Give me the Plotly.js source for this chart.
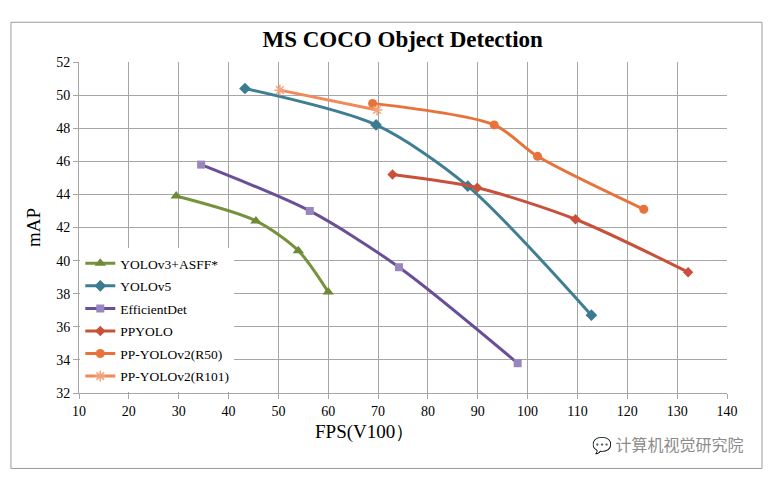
<!DOCTYPE html>
<html>
<head>
    <meta charset="UTF-8">
    <script src="https://cdn.plot.ly/plotly-3.0.1.min.js"></script>
    <style>
        body { margin: 0; background: white; }
        #plot { width: 770px; height: 478px; }
    </style>
</head>
<body>
    <div id="plot"></div>
    <script>
        // values
        const seriesNames = ['YOLOv3+ASFF*', 'YOLOv5', 'EfficientDet', 'PPYOLO', 'PP-YOLOv2(R50)', 'PP-YOLOv2(R101)']

        const asffFps = [29.5, 45.5, 54, 60]
        const asffMap = [43.9, 42.4, 40.6, 38.1]

        const yolov5Fps = [43.3, 69.6, 88, 112.8]
        const yolov5Map = [50.4, 48.2, 44.5, 36.7]

        const effdetFps = [34.5, 56.3, 74.2, 98]
        const effdetMap = [45.8, 43.0, 39.6, 33.8]

        const ppyoloFps = [72.9, 89.9, 109.6, 132.2]
        const ppyoloMap = [45.2, 44.4, 42.5, 39.3]

        const ppv2r50Fps = [68.9, 93.3, 102, 123.3]
        const ppv2r50Map = [49.5, 48.2, 46.3, 43.1]

        const ppv2r101Fps = [50.3, 69.8]
        const ppv2r101Map = [50.3, 49.1]

        const xTicks = [10, 20, 30, 40, 50, 60, 70, 80, 90, 100, 110, 120, 130, 140]
        const yTicks = [32, 34, 36, 38, 40, 42, 44, 46, 48, 50, 52]

        const serif = 'Liberation Serif, Times New Roman, serif'

        function line(name, x, y, color, markerColor, symbol, size) {
            return {
                x: x,
                y: y,
                name: name,
                legendgroup: name,
                type: 'scatter',
                mode: 'lines+markers',
                line: { color: color, width: 3, shape: 'spline', smoothing: 0.8 },
                marker: { color: markerColor, symbol: symbol, size: size,
                          line: { color: markerColor, width: symbol.indexOf('asterisk') === 0 ? 1.5 : 0 } }
            }
        }

        const data = [
            line(seriesNames[0], asffFps, asffMap, '#76923c', '#6f8a36', 'triangle-up', 10),
            line(seriesNames[1], yolov5Fps, yolov5Map, '#3f7f93', '#3a7b8f', 'diamond', 9),
            line(seriesNames[2], effdetFps, effdetMap, '#6a4f96', '#9a86bf', 'square', 8),
            line(seriesNames[3], ppyoloFps, ppyoloMap, '#c9503a', '#c9503a', 'diamond', 8),
            line(seriesNames[4], ppv2r50Fps, ppv2r50Map, '#e8733a', '#e8733a', 'circle', 9),
            line(seriesNames[5], ppv2r101Fps, ppv2r101Map, '#f08a5a', '#f4a07a', 'asterisk-open', 9)
        ]

        const layout = {
            width: 770,
            height: 478,
            margin: { l: 79, r: 43, t: 62, b: 85 },
            paper_bgcolor: 'white',
            plot_bgcolor: 'white',
            font: { family: serif, color: '#000', size: 14 },
            showlegend: true,
            title: {
                text: '<b>MS COCO Object Detection</b>',
                font: { family: serif, size: 23, color: '#000' },
                x: 0.523, xanchor: 'center',
                y: 0.918, yanchor: 'middle'
            },
            xaxis: {
                range: [10, 140],
                tickvals: xTicks,
                ticktext: xTicks.map(String),
                showgrid: true,
                gridcolor: '#a6a6a6',
                gridwidth: 1,
                zeroline: false,
                showline: true,
                linecolor: '#a6a6a6',
                ticks: 'outside',
                ticklen: 5,
                tickcolor: '#a6a6a6',
                tickfont: { family: serif, size: 14 },
                fixedrange: true
            },
            yaxis: {
                range: [32, 52],
                tickvals: yTicks,
                ticktext: yTicks.map(String),
                showgrid: true,
                gridcolor: '#a6a6a6',
                gridwidth: 1,
                zeroline: false,
                showline: true,
                linecolor: '#a6a6a6',
                ticks: 'outside',
                ticklen: 5,
                tickcolor: '#a6a6a6',
                tickfont: { family: serif, size: 14 },
                title: { text: 'mAP', font: { family: serif, size: 19 }, standoff: 10 },
                fixedrange: true
            },
            legend: {
                x: 0.002, y: 0.003,
                xanchor: 'left', yanchor: 'bottom',
                bgcolor: 'white',
                borderwidth: 0,
                font: { family: serif, size: 13.5, color: '#000' },
                traceorder: 'grouped',
                tracegroupgap: 2,
                itemwidth: 30
            },
            shapes: [{
                type: 'rect', xref: 'paper', yref: 'paper',
                x0: -0.105, x1: 1.054, y0: -0.228, y1: 1.12,
                line: { color: '#9a9a9a', width: 1 },
                fillcolor: 'rgba(0,0,0,0)',
                layer: 'below'
            }],
            annotations: [{
                text: 'FPS(V100）',
                xref: 'paper', yref: 'paper',
                x: 0.44, y: -0.118,
                xanchor: 'center', yanchor: 'middle',
                showarrow: false,
                font: { family: serif, size: 19, color: '#000' }
            }, {
                text: '💬 计算机视觉研究院',
                xref: 'paper', yref: 'paper',
                x: 1.03, y: -0.155,
                xanchor: 'right', yanchor: 'middle',
                showarrow: false,
                font: { family: 'Noto Sans CJK SC, sans-serif', size: 16, color: '#8c8c8c' }
            }]
        }

        Plotly.newPlot('plot', data, layout, { staticPlot: true })
    </script>
</body>
</html>
